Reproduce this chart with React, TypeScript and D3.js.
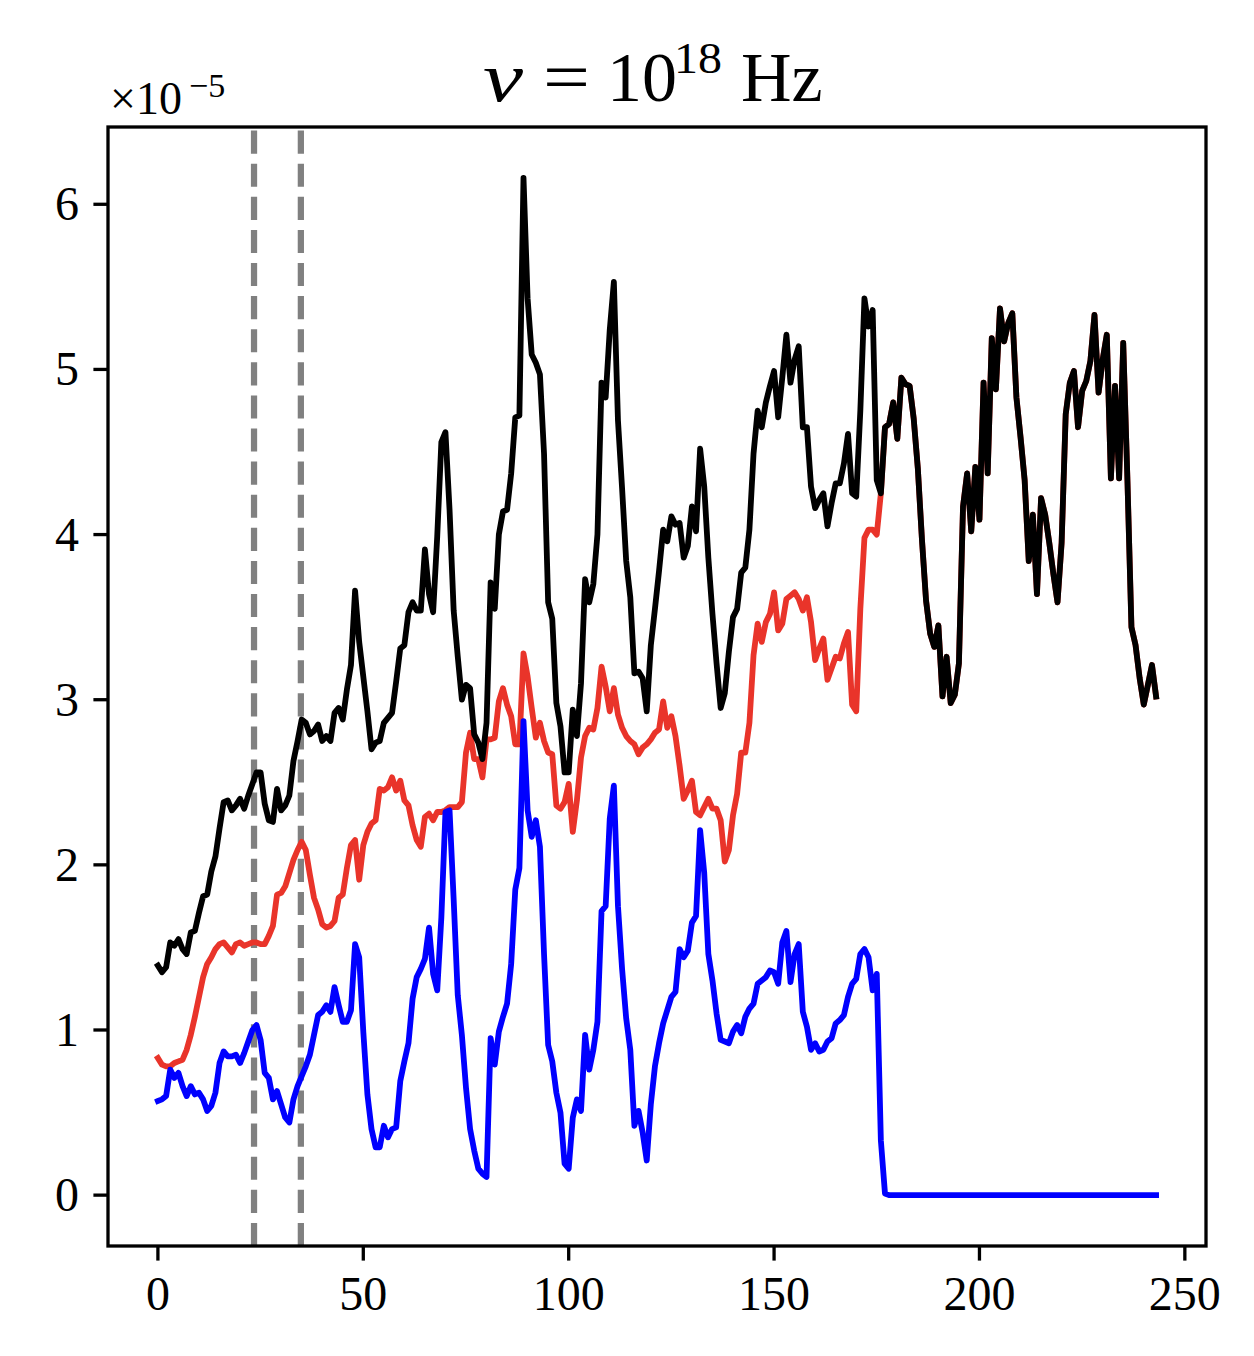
import React from 'react';
import * as d3 from 'd3';

// Black series (values in units of 1e-5), index 0..243
const blackValues: number[] = [
  1.39, 1.35, 1.38, 1.53, 1.51, 1.55, 1.49, 1.46, 1.59, 1.60,
  1.71, 1.81, 1.82, 1.96, 2.05, 2.22, 2.38, 2.39, 2.33, 2.36,
  2.40, 2.34, 2.42, 2.49, 2.56, 2.56, 2.37, 2.27, 2.26, 2.46,
  2.33, 2.36, 2.42, 2.63, 2.75, 2.88, 2.86, 2.79, 2.81, 2.85,
  2.75, 2.78, 2.75, 2.92, 2.95, 2.88, 3.06, 3.21, 3.66, 3.35,
  3.14, 2.93, 2.70, 2.74, 2.75, 2.86, 2.89, 2.92, 3.11, 3.31,
  3.33, 3.53, 3.59, 3.54, 3.54, 3.91, 3.64, 3.53, 3.99, 4.56,
  4.62, 4.15, 3.54, 3.26, 3.00, 3.09, 3.07, 2.79, 2.74, 2.64,
  2.86, 3.71, 3.55, 4.00, 4.14, 4.15, 4.37, 4.71, 4.72, 6.16,
  5.43, 5.09, 5.04, 4.97, 4.49, 3.59, 3.49, 2.98, 2.84, 2.56,
  2.56, 2.94, 2.78, 3.10, 3.73, 3.59, 3.70, 4.00, 4.92, 4.83,
  5.24, 5.53, 4.69, 4.28, 3.84, 3.62, 3.16, 3.17, 3.13, 2.93,
  3.33, 3.55, 3.78, 4.03, 3.96, 4.11, 4.06, 4.07, 3.86, 3.93,
  4.17, 4.02, 4.52, 4.29, 3.86, 3.52, 3.22, 2.95, 3.04, 3.29,
  3.50, 3.55, 3.77, 3.80, 4.03, 4.49, 4.75, 4.65, 4.80, 4.90,
  4.99, 4.71, 4.95, 5.21, 4.92, 5.06, 5.14, 4.65, 4.65, 4.29,
  4.16, 4.21, 4.25, 4.05, 4.19, 4.31, 4.31, 4.43, 4.61, 4.25,
  4.23, 4.75, 5.43, 5.26, 5.36, 4.33, 4.25, 4.65, 4.67, 4.80,
  4.58, 4.95, 4.91, 4.90, 4.70, 4.40, 3.97, 3.60, 3.40, 3.32,
  3.45, 3.02, 3.26, 2.98, 3.03, 3.22, 4.17, 4.37, 4.02, 4.41,
  4.09, 4.92, 4.37, 5.19, 4.88, 5.37, 5.17, 5.28, 5.34, 4.83,
  4.59, 4.33, 3.84, 4.12, 3.64, 4.22, 4.12, 3.95, 3.76, 3.59,
  3.95, 4.73, 4.92, 4.99, 4.65, 4.87, 4.93, 5.05, 5.33, 4.86,
  5.06, 5.21, 4.34, 4.90, 4.34, 5.16, 4.35, 3.44, 3.33, 3.13,
  2.97, 3.09, 3.21, 3.02,
];

// Red series, index 0..175; from 176 on it coincides with the black series
const redHead: number[] = [
  0.83, 0.79, 0.78, 0.78, 0.80, 0.81, 0.82, 0.88, 0.97, 1.08,
  1.20, 1.32, 1.40, 1.44, 1.49, 1.52, 1.53, 1.50, 1.47, 1.52,
  1.53, 1.51, 1.52, 1.53, 1.53, 1.52, 1.52, 1.57, 1.63, 1.82,
  1.83, 1.87, 1.95, 2.03, 2.09, 2.14, 2.09, 1.94, 1.80, 1.73,
  1.64, 1.62, 1.63, 1.66, 1.80, 1.82, 1.98, 2.12, 2.15, 1.91,
  2.12, 2.20, 2.25, 2.27, 2.46, 2.45, 2.47, 2.53, 2.45, 2.51,
  2.39, 2.36, 2.24, 2.15, 2.11, 2.29, 2.31, 2.27, 2.32, 2.32,
  2.33, 2.35, 2.35, 2.35, 2.38, 2.68, 2.80, 2.64, 2.64, 2.53,
  2.76, 2.76, 2.77, 2.99, 3.07, 2.97, 2.90, 2.73, 2.73, 3.28,
  3.14, 2.95, 2.77, 2.86, 2.75, 2.68, 2.67, 2.36, 2.34, 2.38,
  2.49, 2.20, 2.39, 2.65, 2.78, 2.83, 2.82, 2.95, 3.20, 3.08,
  2.93, 3.07, 2.91, 2.83, 2.78, 2.75, 2.73, 2.67, 2.71, 2.73,
  2.76, 2.80, 2.82, 2.99, 2.83, 2.90, 2.78, 2.60, 2.40, 2.45,
  2.51, 2.32, 2.30, 2.35, 2.40, 2.34, 2.34, 2.27, 2.02, 2.09,
  2.30, 2.43, 2.68, 2.68, 2.86, 3.27, 3.46, 3.35, 3.47, 3.52,
  3.65, 3.42, 3.46, 3.61, 3.63, 3.65, 3.61, 3.54, 3.62, 3.47,
  3.24, 3.31, 3.37, 3.12, 3.19, 3.26, 3.25, 3.34, 3.41, 2.97,
  2.93, 3.55, 3.98, 4.03, 4.03, 4.00,
];
const redValues: number[] = [...redHead, ...blackValues.slice(redHead.length)];

// Blue series, index 0..243
const blueValues: number[] = [
  0.57, 0.58, 0.60, 0.76, 0.71, 0.74, 0.66, 0.60, 0.66, 0.61,
  0.62, 0.58, 0.51, 0.54, 0.62, 0.80, 0.87, 0.84, 0.84, 0.85,
  0.80, 0.86, 0.93, 1.00, 1.03, 0.94, 0.74, 0.71, 0.58, 0.63,
  0.55, 0.47, 0.44, 0.58, 0.66, 0.72, 0.78, 0.85, 0.97, 1.09,
  1.11, 1.15, 1.11, 1.26, 1.15, 1.05, 1.05, 1.12, 1.52, 1.44,
  0.99, 0.61, 0.40, 0.29, 0.29, 0.42, 0.35, 0.40, 0.41, 0.69,
  0.81, 0.92, 1.19, 1.32, 1.37, 1.43, 1.62, 1.34, 1.24, 1.68,
  2.32, 2.33, 1.79, 1.21, 0.97, 0.65, 0.40, 0.27, 0.16, 0.13,
  0.11, 0.95, 0.79, 0.99, 1.08, 1.16, 1.40, 1.85, 1.98, 2.87,
  2.33, 2.17, 2.27, 2.11, 1.46, 0.91, 0.81, 0.62, 0.50, 0.19,
  0.16, 0.47, 0.58, 0.51, 0.97, 0.76, 0.88, 1.05, 1.72, 1.75,
  2.28, 2.48, 1.75, 1.37, 1.07, 0.88, 0.42, 0.51, 0.38, 0.21,
  0.55, 0.78, 0.92, 1.04, 1.12, 1.20, 1.23, 1.49, 1.44, 1.48,
  1.65, 1.69, 2.21, 1.95, 1.46, 1.30, 1.10, 0.94, 0.93, 0.92,
  0.99, 1.03, 0.98, 1.08, 1.13, 1.16, 1.28, 1.30, 1.32, 1.36,
  1.35, 1.28, 1.53, 1.60, 1.29, 1.46, 1.52, 1.11, 1.02, 0.88,
  0.92, 0.87, 0.88, 0.93, 0.95, 1.04, 1.06, 1.09, 1.20, 1.28,
  1.31, 1.46, 1.49, 1.44, 1.24, 1.34, 0.33, 0.01, 0, 0,
  0, 0, 0, 0, 0, 0, 0, 0, 0, 0,
  0, 0, 0, 0, 0, 0, 0, 0, 0, 0,
  0, 0, 0, 0, 0, 0, 0, 0, 0, 0,
  0, 0, 0, 0, 0, 0, 0, 0, 0, 0,
  0, 0, 0, 0, 0, 0, 0, 0, 0, 0,
  0, 0, 0, 0, 0, 0, 0, 0, 0, 0,
  0, 0, 0, 0,
];

const xTicks: number[] = [0, 50, 100, 150, 200, 250];
const yTicks: number[] = [0, 1, 2, 3, 4, 5, 6];
const dashedLines: number[] = [23.4, 34.8];

const seriesColors = { red: '#e9342a', black: '#000000', blue: '#0000ff' };

const W = 1254;
const H = 1356;
const M = { left: 108, right: 1206, top: 127, bottom: 1246 };
const FONT = '"Liberation Serif", "Times New Roman", serif';

export default function App() {
  const n = blackValues.length;
  const xMax = n - 1;
  const all = [...blackValues, ...redValues, ...blueValues];
  const yMin = d3.min(all) as number;
  const yMax = d3.max(all) as number;
  const xPad = (xMax - 0) * 0.05;
  const yPad = (yMax - yMin) * 0.05;

  const x = d3.scaleLinear().domain([0 - xPad, xMax + xPad]).range([M.left, M.right]);
  const y = d3.scaleLinear().domain([yMin - yPad, yMax + yPad]).range([M.bottom, M.top]);

  const line = d3
    .line<number>()
    .x((_, i) => x(i))
    .y((d) => y(d));

  const lw = 5.8;
  const tickLen = 14.6;
  const spineW = 3.3;

  return (
    <svg
      width={W}
      height={H}
      viewBox={`0 0 ${W} ${H}`}
      style={{ position: 'absolute', left: 0, top: 0, background: '#ffffff' }}
    >
      <defs>
        <clipPath id="plotArea">
          <rect x={M.left} y={M.top} width={M.right - M.left} height={M.bottom - M.top} />
        </clipPath>
      </defs>
      <rect x={0} y={0} width={W} height={H} fill="#ffffff" />

      <g clipPath="url(#plotArea)">
        {dashedLines.map((v) => (
          <path
            key={v}
            d={`M${x(v)},${M.bottom} L${x(v)},${M.top}`}
            stroke="#808080"
            strokeWidth={6.25}
            strokeDasharray="23.1 10"
            fill="none"
          />
        ))}
        <path d={line(redValues) || ''} fill="none" stroke={seriesColors.red} strokeWidth={lw}
          strokeLinejoin="round" strokeLinecap="square" />
        <path d={line(blackValues) || ''} fill="none" stroke={seriesColors.black} strokeWidth={lw}
          strokeLinejoin="round" strokeLinecap="square" />
        <path d={line(blueValues) || ''} fill="none" stroke={seriesColors.blue} strokeWidth={lw}
          strokeLinejoin="round" strokeLinecap="square" />
      </g>

      {/* spines */}
      <rect x={M.left} y={M.top} width={M.right - M.left} height={M.bottom - M.top}
        fill="none" stroke="#000" strokeWidth={spineW} />

      {/* x ticks */}
      {xTicks.map((t) => (
        <g key={`x${t}`}>
          <line x1={x(t)} x2={x(t)} y1={M.bottom} y2={M.bottom + tickLen} stroke="#000" strokeWidth={spineW} />
          <text x={x(t)} y={1310} textAnchor="middle" fontFamily={FONT} fontSize={48} fill="#000">
            {t}
          </text>
        </g>
      ))}

      {/* y ticks */}
      {yTicks.map((t) => (
        <g key={`y${t}`}>
          <line x1={M.left - tickLen} x2={M.left} y1={y(t)} y2={y(t)} stroke="#000" strokeWidth={spineW} />
          <text x={79} y={y(t) + 16} textAnchor="end" fontFamily={FONT} fontSize={48} fill="#000">
            {t}
          </text>
        </g>
      ))}

      {/* offset text ×10^-5 */}
      <text x={110} y={114} fontFamily={FONT} fontSize={46} fill="#000">×10</text>
      <text x={189} y={97} fontFamily={FONT} fontSize={34} fill="#000">−5</text>

      {/* title ν = 10^18 Hz */}
      <text x={483} y={101} fontFamily={FONT} fontSize={70} fontStyle="italic" fill="#000"
        textLength={40} lengthAdjust="spacingAndGlyphs">ν</text>
      <text x={543} y={101} fontFamily={FONT} fontSize={70} fill="#000"
        textLength={47} lengthAdjust="spacingAndGlyphs">=</text>
      <text x={607} y={101} fontFamily={FONT} fontSize={70} fill="#000">10</text>
      <text x={674} y={73} fontFamily={FONT} fontSize={44} fill="#000"
        textLength={48} lengthAdjust="spacingAndGlyphs">18</text>
      <text x={741} y={101} fontFamily={FONT} fontSize={70} fill="#000">Hz</text>
    </svg>
  );
}
